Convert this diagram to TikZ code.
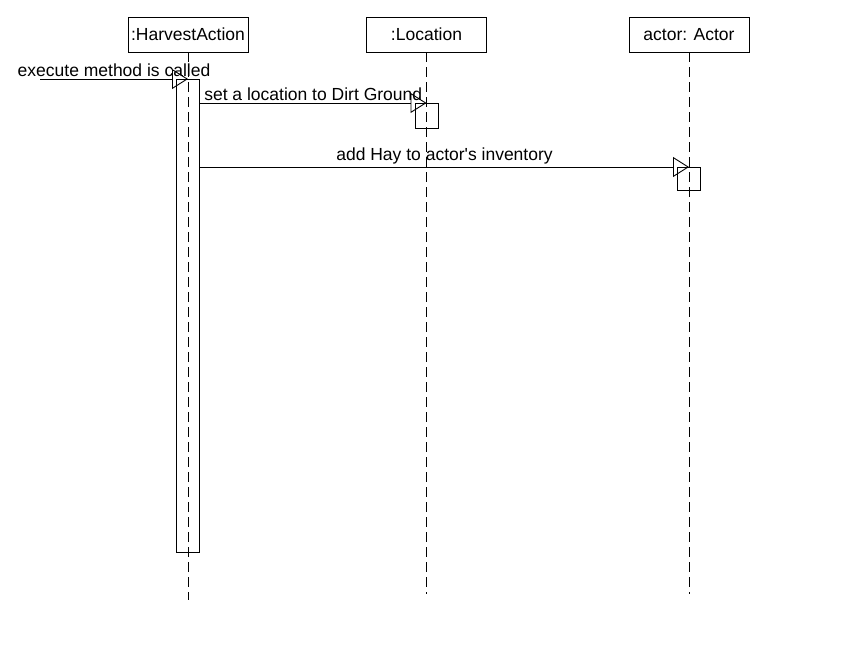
\documentclass[tikz,border=0pt]{standalone}
\usepackage{fontspec}
\setmainfont{Liberation Sans}
\usetikzlibrary{arrows.meta, positioning}

\begin{document}
\begin{tikzpicture}[
  x=1pt, y=-1pt,
  font=\fontsize{17.5}{20}\selectfont,
  line width=0.9pt,
  % Box styles
  object/.style={draw, minimum width=120pt, minimum height=35pt, inner sep=0pt},
  activation/.style={draw, minimum width=23pt, inner sep=0pt, anchor=north},
  lifeline/.style={dash pattern=on 10pt off 5pt},
  msg/.style={-{Triangle[open, length=16pt, width=20pt]}},
  msglabel/.style={midway, above, inner sep=2pt},
]
\useasboundingbox (0,0) rectangle (866,646);

% ---- OBJECTS ----
\node[object] (harvest)  at (188, 34.5)   {:HarvestAction};
\node[object] (location) at (426.5, 34.5) {:Location};
\node[object] (actor)    at (689, 34.5)   {actor: Actor};

% lifeline ends
\coordinate (harvestend)  at (188, 600);
\coordinate (locationend) at (426.5, 594);
\coordinate (actorend)    at (689, 594);

\foreach \obj in {harvest, location, actor}
  \draw[lifeline] (\obj.south) -- (\obj end);

% ---- ACTIVATIONS ----
\node[activation, minimum height=473pt] (harvestact)  at (188, 79)    {};
\node[activation, minimum height=25pt]  (locationact) at (426.5, 103) {};
\node[activation, minimum height=23pt]  (actoract)    at (689, 167)   {};

% ---- MESSAGES ----
\coordinate (caller) at (40, 79);
\draw[msg] (caller) -- (harvestact.north)
  node[msglabel] {execute method is called};
\draw[msg] (harvestact.east |- locationact.north) -- (locationact.north)
  node[msglabel] {set a location to Dirt Ground};
\draw[msg] (harvestact.east |- actoract.north) -- (actoract.north)
  node[msglabel] {add Hay to actor\textquotesingle s inventory};

\end{tikzpicture}
\end{document}
